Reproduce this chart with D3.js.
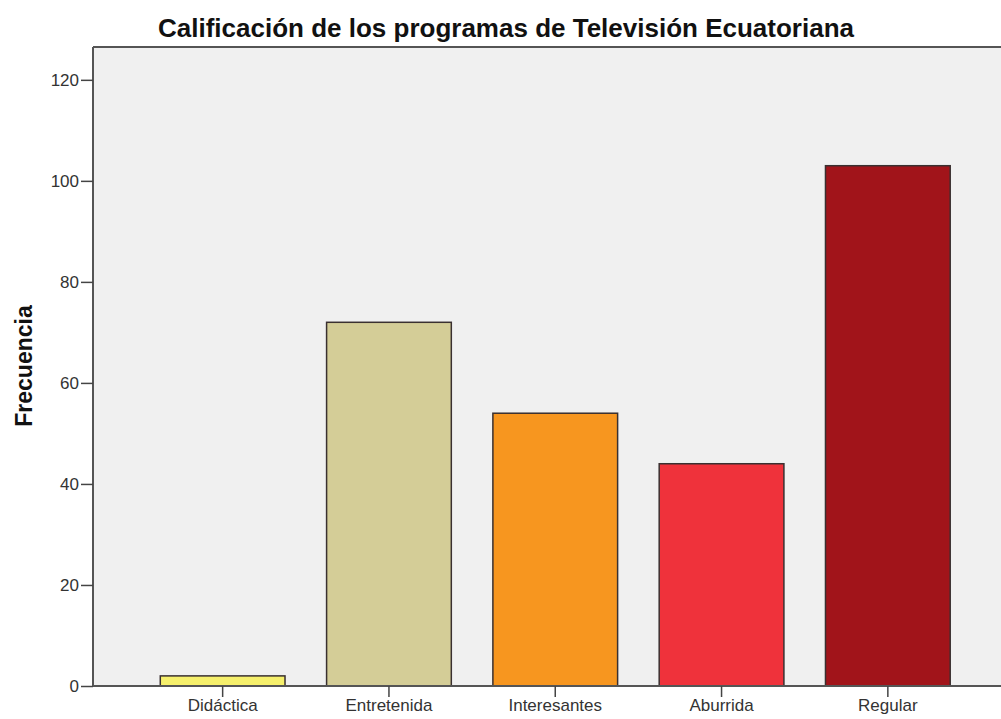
<!DOCTYPE html>
<html>
<head>
<meta charset="utf-8">
<script src="https://cdn.jsdelivr.net/npm/d3@7"></script>
<style>
  html, body { margin: 0; padding: 0; background: #fff; }
  svg { display: block; }
</style>
</head>
<body>
<svg id="chart" width="1001" height="719"></svg>
<script>
// Data
const categories = ["Didáctica", "Entretenida", "Interesantes", "Aburrida", "Regular"];
const frequencies = [2, 72, 54, 44, 103];
const barColors = ["#f6f06c", "#d4cd97", "#f7961f", "#ef323b", "#a1141a"];
const yTicks = [0, 20, 40, 60, 80, 100, 120];
const titleText = "Calificación de los programas de Televisión Ecuatoriana";
const yLabel = "Frecuencia";

const svg = d3.select("#chart");
const W = 1001, H = 719;
const plot = { left: 93, top: 47, right: 1010, bottom: 686 };
const font = "Arial, 'Liberation Sans', sans-serif";

const y = d3.scaleLinear().domain([0, 126.5]).range([plot.bottom, plot.top]);
const x = d3.scaleBand().domain(categories).range([139.5, 971]).paddingInner(0.25).paddingOuter(0.125);

// Plot background
svg.append("rect")
  .attr("x", plot.left).attr("y", plot.top)
  .attr("width", plot.right - plot.left).attr("height", plot.bottom - plot.top)
  .attr("fill", "#f0f0f0");

// Bars
svg.append("g").selectAll("rect")
  .data(categories)
  .join("rect")
  .attr("x", d => x(d))
  .attr("y", (d, i) => y(frequencies[i]))
  .attr("width", x.bandwidth())
  .attr("height", (d, i) => y(0) - y(frequencies[i]))
  .attr("fill", (d, i) => barColors[i])
  .attr("stroke", "#3a3030")
  .attr("stroke-width", 1.5);

// Frame line along the top
svg.append("line")
  .attr("x1", plot.left).attr("x2", W).attr("y1", plot.top).attr("y2", plot.top)
  .attr("stroke", "#555").attr("stroke-width", 2);

// Y axis
const yAxis = svg.append("g")
  .attr("transform", `translate(${plot.left},0)`)
  .call(d3.axisLeft(y).tickValues(yTicks).tickSize(12).tickPadding(2).tickSizeOuter(0));
yAxis.select(".domain").attr("d", `M0,${plot.top}V${plot.bottom}`).attr("stroke", "#555").attr("stroke-width", 2);
yAxis.selectAll(".tick line").attr("stroke", "#444").attr("stroke-width", 1.5);
yAxis.selectAll(".tick text")
  .attr("font-family", font)
  .attr("font-size", 17).attr("fill", "#333");

// X axis
const xAxis = svg.append("g")
  .attr("transform", `translate(0,${plot.bottom})`)
  .call(d3.axisBottom(x).tickSize(11).tickPadding(2).tickSizeOuter(0));
xAxis.select(".domain").attr("d", `M${plot.left},0H${W}`).attr("stroke", "#555").attr("stroke-width", 2);
xAxis.selectAll(".tick line").attr("stroke", "#444").attr("stroke-width", 1.5);
xAxis.selectAll(".tick text")
  .attr("font-family", font)
  .attr("font-size", 17).attr("fill", "#333");

// Title
svg.append("text")
  .attr("x", 506).attr("y", 37)
  .attr("text-anchor", "middle")
  .attr("font-family", font)
  .attr("font-weight", "bold").attr("font-size", 26).attr("fill", "#111")
  .text(titleText);

// Y label
svg.append("text")
  .attr("transform", "translate(32,366) rotate(-90)")
  .attr("text-anchor", "middle")
  .attr("font-family", font)
  .attr("font-weight", "bold").attr("font-size", 23).attr("fill", "#111")
  .text(yLabel);
</script>
</body>
</html>
